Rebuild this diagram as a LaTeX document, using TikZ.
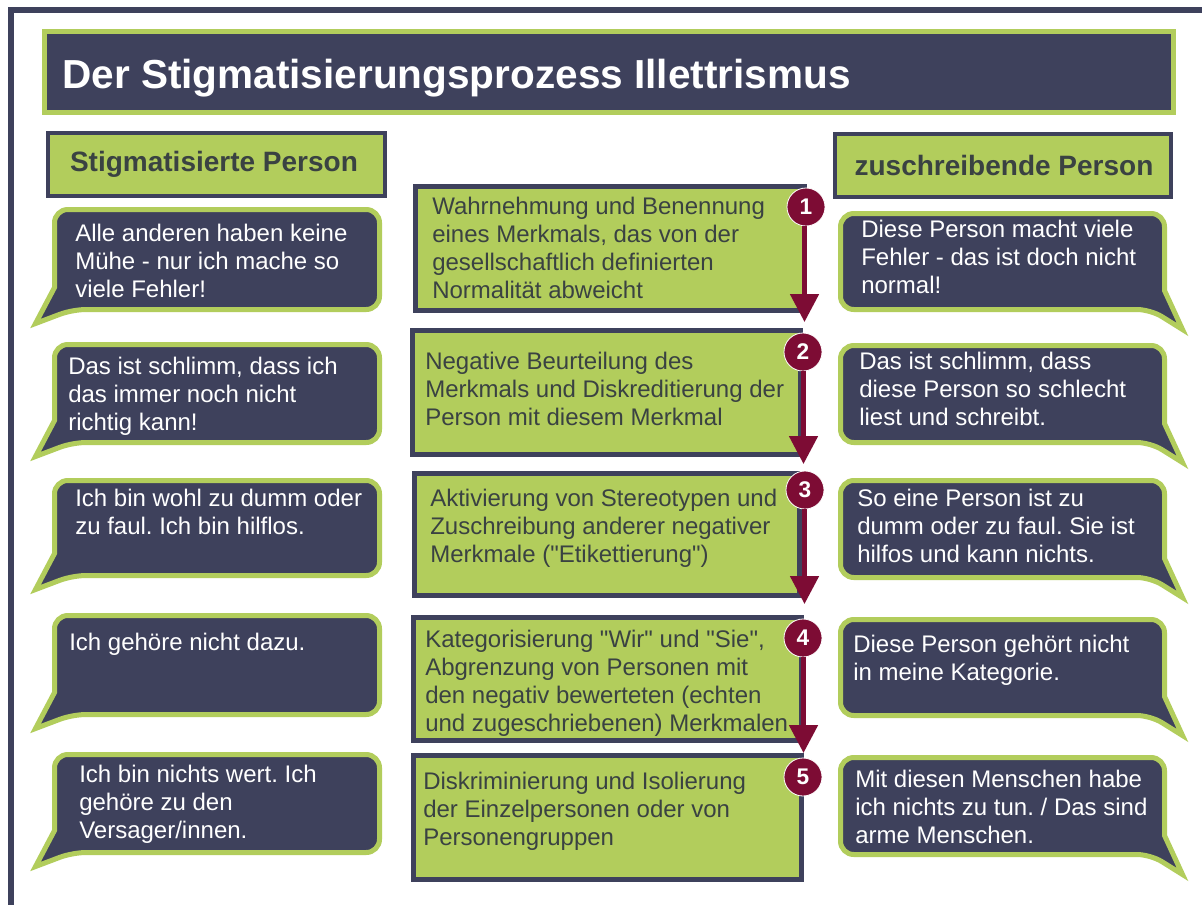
\documentclass[tikz,border=0pt]{standalone}
\usepackage{fontspec}
\setmainfont{Liberation Sans}[Ligatures=TeXOff]
\usetikzlibrary{arrows.meta}
\definecolor{navy}{RGB}{62,65,92}
\definecolor{lgreen}{RGB}{178,205,92}
\definecolor{darktext}{RGB}{58,66,66}
\definecolor{maroon}{RGB}{125,12,52}
\newcommand{\bubL}[4]{%
  \draw[bubble] (#1,{#4-22}) [rounded corners=10pt] -- (#1,#2) -- (#3,#2) -- (#3,#4) -- ({#1+18},#4) [sharp corners] -- ({#1-19},{#4+14}) -- cycle;}
\newcommand{\bubR}[4]{%
  \draw[bubble] (#3,{#4-19}) [rounded corners=10pt] -- (#3,#2) -- (#1,#2) -- (#1,#4) -- ({#3-14},#4) [sharp corners] -- ({#3+18},{#4+20}) -- cycle;}
\begin{document}
\frenchspacing
\begin{tikzpicture}[x=0.75pt,y=-0.75pt,
  bubble/.style={fill=navy,draw=lgreen,line width=3.75pt},
  stepbox/.style={fill=lgreen,draw=navy,line width=3.75pt},
  headbox/.style={fill=lgreen,draw=navy,line width=3pt},
  btext/.style={anchor=north west,inner sep=0pt,align=left,text=white,font=\fontsize{18}{21}\selectfont},
  stext/.style={anchor=north west,inner sep=0pt,align=left,text=darktext,font=\fontsize{18}{21}\selectfont},
  htext/.style={inner sep=0pt,text=darktext,font=\fontsize{21}{25}\selectfont\bfseries},
  num/.style={circle,fill=maroon,draw=white,line width=0.6pt,text=white,inner sep=0pt,minimum size=28.5pt,font=\fontsize{17}{19}\selectfont\bfseries},
  arr/.style={draw=maroon,line width=3.75pt,-{Triangle[width=21pt,length=21pt]}}]
\useasboundingbox (0,0) rectangle (1202,904);
\fill[white] (0,0) rectangle (1202,904);
% frame
\draw[navy,line width=4.5pt] (10.5,920) -- (10.5,10) -- (1220,10);
% title
\draw[fill=navy,draw=lgreen,line width=3.75pt] (44.5,31.5) rectangle (1173.5,112.5);
\node[anchor=base west,inner sep=0pt,text=white,font=\fontsize{30.4}{36}\selectfont\bfseries] (title) at (62,88) {Der Stigmatisierungsprozess Illettrismus};
% headers
\draw[headbox] (48,133) rectangle (385,196);
\node[htext] (hl) at (214,164.5) {Stigmatisierte Person};
\draw[headbox] (835,134) rectangle (1171,197);
\node[htext] (hr) at (1004,165.5) {zuschreibende Person};
% left bubbles
\bubL{54.5}{209.5}{379.5}{309.5}
\bubL{54.5}{344.5}{379.5}{442.5}
\bubL{54.5}{480.5}{379.5}{575.5}
\bubL{54.5}{615.5}{379.5}{714.5}
\bubL{54.5}{754.5}{379.5}{852.5}
\node[btext] (l1) at (75,224) {Alle anderen haben keine\\Mühe - nur ich mache so\\viele Fehler!};
\node[btext] (l2) at (68,357) {Das ist schlimm, dass ich\\das immer noch nicht\\richtig kann!};
\node[btext] (l3) at (75,489) {Ich bin wohl zu dumm oder\\zu faul. Ich bin hilflos.};
\node[btext] (l4) at (69,633) {Ich gehöre nicht dazu.};
\node[btext] (l5) at (79,765) {Ich bin nichts wert. Ich\\gehöre zu den\\Versager/innen.};
% right bubbles
\bubR{840.5}{213.5}{1164.5}{309.5}
\bubR{840.5}{345.5}{1164.5}{442.5}
\bubR{840.5}{480.5}{1164.5}{577.5}
\bubR{840.5}{619.5}{1164.5}{715.5}
\bubR{840.5}{757.5}{1164.5}{854.5}
\node[btext] (r1) at (861,220) {Diese Person macht viele\\Fehler - das ist doch nicht\\normal!};
\node[btext] (r2) at (859,352) {Das ist schlimm, dass\\diese Person so schlecht\\liest und schreibt.};
\node[btext] (r3) at (857,489) {So eine Person ist zu\\dumm oder zu faul. Sie ist\\hilfos und kann nichts.};
\node[btext] (r4) at (853,635) {Diese Person gehört nicht\\in meine Kategorie.};
\node[btext] (r5) at (855,770) {Mit diesen Menschen habe\\ich nichts zu tun. / Das sind\\arme Menschen.};
% middle step boxes
\draw[stepbox] (415.5,186.5) rectangle (804.5,310.5);
\draw[stepbox] (412.5,330.5) rectangle (800.5,454.5);
\draw[stepbox] (414.5,473.5) rectangle (799.5,595.5);
\draw[stepbox] (413.5,617.5) rectangle (801.5,740.5);
\draw[stepbox] (413.5,755.5) rectangle (801.5,879.5);
\node[stext] (m1) at (432,197) {Wahrnehmung und Benennung\\eines Merkmals, das von der\\gesellschaftlich definierten\\Normalität abweicht};
\node[stext] (m2) at (425,352) {Negative Beurteilung des\\Merkmals und Diskreditierung der\\Person mit diesem Merkmal};
\node[stext] (m3) at (430,489) {Aktivierung von Stereotypen und\\Zuschreibung anderer negativer\\Merkmale ("Etikettierung")};
\node[stext] (m4) at (425,630) {Kategorisierung "Wir" und "Sie",\\Abgrenzung von Personen mit\\den negativ bewerteten (echten\\und zugeschriebenen) Merkmalen};
\node[stext] (m5) at (423,772) {Diskriminierung und Isolierung\\der Einzelpersonen oder von\\Personengruppen};
% arrows and numbers
\coordinate (t1) at (804.5,322);
\coordinate (t2) at (803.5,464);
\coordinate (t3) at (804.5,604);
\coordinate (t4) at (803.5,753);
\node[num] (c1) at (806,207) {1};
\node[num] (c2) at (803,352) {2};
\node[num] (c3) at (805,490) {3};
\node[num] (c4) at (803,638) {4};
\node[num] (c5) at (803,777) {5};
\draw[arr] (c1.south -| t1) -- (t1);
\draw[arr] (c2.south -| t2) -- (t2);
\draw[arr] (c3.south -| t3) -- (t3);
\draw[arr] (c4.south -| t4) -- (t4);
\end{tikzpicture}
\end{document}
